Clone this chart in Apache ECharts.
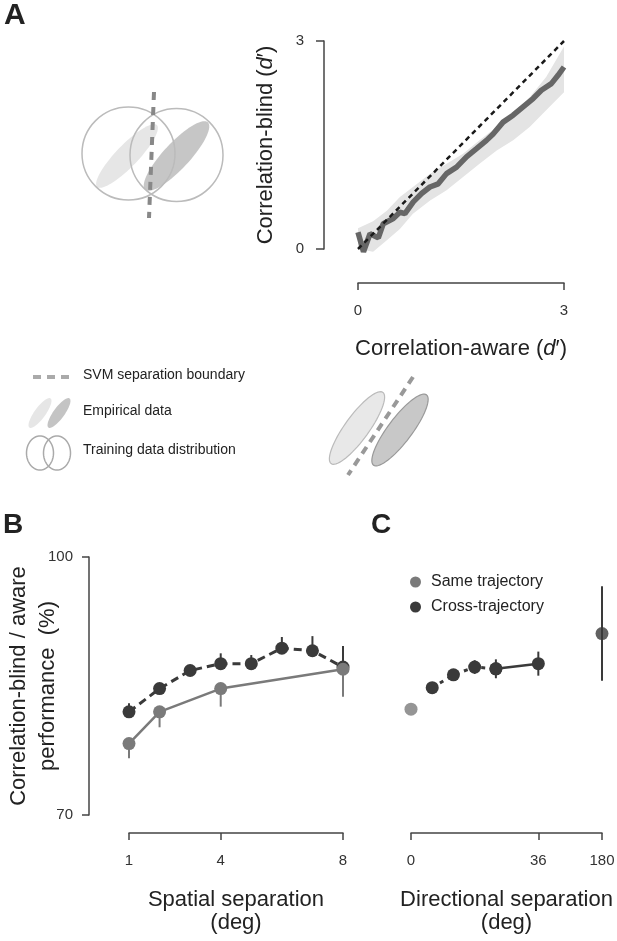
<!DOCTYPE html>
<html><head><meta charset="utf-8">
<script src="https://cdn.jsdelivr.net/npm/echarts@6/dist/echarts.min.js"></script>
<style>html,body{margin:0;padding:0;background:#fff}#c{width:617px;height:941px}</style>
</head><body><div id="c"></div>
<script>
// ---------- Panel A data ----------
const aLineX = [0, 0.08, 0.175, 0.296, 0.368, 0.514, 0.61, 0.683, 0.805, 0.926, 1.047, 1.168, 1.289, 1.435, 1.58, 1.726, 1.871, 1.968, 2.113, 2.259, 2.404, 2.55, 2.67, 2.816, 2.913, 3.0];
const aLineY = [0.24, -0.04, 0.22, 0.16, 0.365, 0.44, 0.53, 0.51, 0.68, 0.80, 0.894, 0.94, 1.087, 1.18, 1.33, 1.447, 1.567, 1.66, 1.83, 1.93, 2.05, 2.17, 2.29, 2.385, 2.505, 2.625];
const aBandX = [0, 0.22, 0.42, 0.61, 0.8, 1.05, 1.29, 1.53, 1.77, 2.02, 2.26, 2.5, 2.74, 3.0];
const aBandUpper = [0.3, 0.4, 0.55, 0.75, 0.894, 1.087, 1.23, 1.375, 1.567, 1.76, 1.95, 2.19, 2.48, 2.92];
const aBandLower = [0.0, -0.04, 0.125, 0.29, 0.51, 0.70, 0.846, 1.04, 1.23, 1.42, 1.567, 1.76, 2.0, 2.26];
const aDiagX = [0, 3];
const aDiagY = [0, 3];
const aTicks = [0, 3];

// ---------- Panel B data ----------
const bCrossX = [1, 2, 3, 4, 5, 6, 7, 8];
const bCross = [82.0, 84.7, 86.8, 87.6, 87.6, 89.4, 89.1, 87.2];
const bCrossErrUp = [1.0, 0.5, 0.5, 1.2, 1.0, 1.3, 1.7, 2.45];
const bSameX = [1, 2, 4, 8];
const bSame = [78.3, 82.0, 84.7, 86.95];
const bSameErrDown = [1.7, 1.8, 2.1, 3.2];
const bTicks = [1, 4, 8];
const yTicks = [70, 100];

// ---------- Panel C data ----------
const cSameX = [0];
const cSame = [82.3];
const cCrossX = [6, 12, 18, 24, 36, 180];
const cCross = [84.8, 86.3, 87.2, 87.0, 87.6, 91.1];
const cCrossErr = [0.5, 0.5, 0.8, 1.1, 1.4, 5.5];
const cTickValues = [0, 36, 180];
const cTickLabels = ['0', '36', '180'];

// axis break for panel C: 180 sits just after 36
function cPos(v) { return v <= 36 ? v : 54; }

const FONT = "'Liberation Sans', Arial, Helvetica, sans-serif";
const DARK = '#3a3a3a', GRAY = '#7a7a7a', AXIS = '#444';

function ell(cx, cy, rx, ry, deg) {
  const a = deg * Math.PI / 180, pts = [];
  for (let i = 0; i < 72; i++) {
    const t = i / 72 * Math.PI * 2, x = rx * Math.cos(t), y = ry * Math.sin(t);
    pts.push([cx + x * Math.cos(a) - y * Math.sin(a), cy + x * Math.sin(a) + y * Math.cos(a)]);
  }
  return pts;
}

function zipXY(xs, ys) { return xs.map((x, i) => [x, ys[i]]); }

const chart = echarts.init(document.getElementById('c'), null, {renderer: 'canvas'});

const axisLineStyle = {show: true, onZero: false, lineStyle: {color: AXIS, width: 1.5}};
const tickStyle = {show: true, length: 7, lineStyle: {color: AXIS, width: 1.5}};
const labelStyle = {color: '#333', fontSize: 15, fontFamily: FONT};
const nameStyle = {color: '#222', fontSize: 22, fontFamily: FONT, lineHeight: 23};

function errRender(color) {
  return function (params, api) {
    const x = api.value(0), y = api.value(1), up = api.value(2), dn = api.value(3);
    const p1 = api.coord([x, y + up]), p2 = api.coord([x, y - dn]);
    return {type: 'line', shape: {x1: p1[0], y1: p1[1], x2: p2[0], y2: p2[1]}, style: {stroke: color, lineWidth: 2}};
  };
}

const option = {
  animation: false,
  textStyle: {fontFamily: FONT},
  grid: [
    {left: 358, top: 41, width: 206, height: 208, outerBoundsMode: 'none', containLabel: false},
    {left: 129, top: 557, width: 214, height: 258, outerBoundsMode: 'none', containLabel: false},
    {left: 411, top: 557, width: 191, height: 258, outerBoundsMode: 'none', containLabel: false}
  ],
  xAxis: [
    {gridIndex: 0, type: 'value', min: 0, max: 3, interval: 3, offset: 34, nameMoveOverlap: false,
     axisLine: axisLineStyle, axisTick: tickStyle, splitLine: {show: false},
     axisLabel: Object.assign({margin: 20}, labelStyle),
     name: 'Correlation-aware ({i|d}′)', nameLocation: 'middle', nameGap: 54,
     nameTextStyle: Object.assign({rich: {i: {fontStyle: 'italic', fontSize: 22, fontFamily: FONT, color: '#222'}}}, nameStyle)},
    {gridIndex: 1, type: 'value', min: 1, max: 8, offset: 18, nameMoveOverlap: false,
     axisLine: axisLineStyle, axisTick: Object.assign({customValues: bTicks}, tickStyle), splitLine: {show: false},
     axisLabel: Object.assign({margin: 20, customValues: bTicks}, labelStyle),
     name: 'Spatial separation\n(deg)', nameLocation: 'middle', nameGap: 55, nameTextStyle: nameStyle},
    {gridIndex: 2, type: 'value', min: 0, max: 54, offset: 18, nameMoveOverlap: false,
     axisLine: axisLineStyle, axisTick: Object.assign({customValues: cTickValues.map(cPos)}, tickStyle), splitLine: {show: false},
     axisLabel: Object.assign({margin: 20, customValues: cTickValues.map(cPos),
       formatter: function (v) { const i = cTickValues.map(cPos).indexOf(v); return i >= 0 ? cTickLabels[i] : ''; }}, labelStyle),
     name: 'Directional separation\n(deg)', nameLocation: 'middle', nameGap: 55, nameTextStyle: nameStyle}
  ],
  yAxis: [
    {gridIndex: 0, type: 'value', min: 0, max: 3, interval: 3, offset: 34, nameMoveOverlap: false,
     axisLine: axisLineStyle, axisTick: Object.assign({}, tickStyle, {length: 8}), splitLine: {show: false},
     axisLabel: Object.assign({margin: 20}, labelStyle),
     name: 'Correlation-blind ({i|d}′)', nameLocation: 'middle', nameRotate: 90, nameGap: 47,
     nameTextStyle: Object.assign({rich: {i: {fontStyle: 'italic', fontSize: 22, fontFamily: FONT, color: '#222'}}}, nameStyle)},
    {gridIndex: 1, type: 'value', min: 70, max: 100, interval: 30, offset: 40, nameMoveOverlap: false,
     axisLine: axisLineStyle, axisTick: tickStyle, splitLine: {show: false},
     axisLabel: Object.assign({margin: 16}, labelStyle),
     name: 'Correlation-blind / aware\nperformance  (%)', nameLocation: 'middle', nameRotate: 90, nameGap: 27,
     nameTextStyle: Object.assign({}, nameStyle, {lineHeight: 29})},
    {gridIndex: 2, type: 'value', min: 70, max: 100, interval: 30, show: false}
  ],
  legend: {
    orient: 'vertical', left: 405, top: 569, itemGap: 9, icon: 'circle', itemWidth: 11, itemHeight: 11,
    textStyle: {fontSize: 16, color: '#222', fontFamily: FONT, padding: [0, 0, 0, 5]},
    data: ['Same trajectory', 'Cross-trajectory'], selectedMode: false
  },
  series: [
    // Panel A
    {type: 'custom', xAxisIndex: 0, yAxisIndex: 0, data: [[0, 0]], clip: false, silent: true, z: 1,
     renderItem: function (params, api) {
       const pts = [];
       for (let i = 0; i < aBandX.length; i++) pts.push(api.coord([aBandX[i], aBandUpper[i]]));
       for (let i = aBandX.length - 1; i >= 0; i--) pts.push(api.coord([aBandX[i], aBandLower[i]]));
       return {type: 'polygon', shape: {points: pts}, style: {fill: '#e4e4e4'}};
     }},
    {type: 'line', xAxisIndex: 0, yAxisIndex: 0, data: zipXY(aLineX, aLineY), symbol: 'none', clip: false, z: 3,
     lineStyle: {color: '#666', width: 5.5}},
    {type: 'line', xAxisIndex: 0, yAxisIndex: 0, data: zipXY(aDiagX, aDiagY), symbol: 'none', clip: false, z: 4,
     lineStyle: {color: '#1a1a1a', width: 2.5, type: [5, 4]}},
    // Panel B
    {type: 'custom', xAxisIndex: 1, yAxisIndex: 1, z: 2, clip: false,
     data: bCrossX.map((x, i) => [x, bCross[i], bCrossErrUp[i], 0]), renderItem: errRender(DARK)},
    {name: 'Cross-trajectory', type: 'line', xAxisIndex: 1, yAxisIndex: 1, data: zipXY(bCrossX, bCross), z: 3,
     symbol: 'circle', symbolSize: 13, itemStyle: {color: DARK}, lineStyle: {color: DARK, width: 3, type: [8, 5]}},
    {type: 'custom', xAxisIndex: 1, yAxisIndex: 1, z: 4, clip: false,
     data: bSameX.map((x, i) => [x, bSame[i], 0, bSameErrDown[i]]), renderItem: errRender(GRAY)},
    {name: 'Same trajectory', type: 'line', xAxisIndex: 1, yAxisIndex: 1, data: zipXY(bSameX, bSame), z: 5,
     symbol: 'circle', symbolSize: 13, itemStyle: {color: GRAY}, lineStyle: {color: GRAY, width: 2.5}},
    // Panel C
    {type: 'custom', xAxisIndex: 2, yAxisIndex: 2, z: 2, clip: false,
     data: cCrossX.map((x, i) => [cPos(x), cCross[i], cCrossErr[i], cCrossErr[i]]), renderItem: errRender(DARK)},
    {name: 'Cross-trajectory', type: 'line', xAxisIndex: 2, yAxisIndex: 2, z: 3,
     data: cCrossX.slice(0, 4).map((x, i) => [cPos(x), cCross[i]]),
     symbol: 'circle', symbolSize: 13, itemStyle: {color: DARK}, lineStyle: {color: DARK, width: 3, type: [4, 5]}},
    {name: 'Cross-trajectory', type: 'line', xAxisIndex: 2, yAxisIndex: 2, z: 3,
     data: cCrossX.slice(3, 5).map((x, i) => [cPos(x), cCross[i + 3]]),
     symbol: 'circle', symbolSize: 13, itemStyle: {color: DARK}, lineStyle: {color: DARK, width: 2.5}},
    {name: 'Cross-trajectory', type: 'scatter', xAxisIndex: 2, yAxisIndex: 2, z: 3,
     data: cCrossX.slice(5).map((x, i) => [cPos(x), cCross[i + 5]]),
     symbol: 'circle', symbolSize: 13, itemStyle: {color: DARK}},
    {name: 'Same trajectory', type: 'scatter', xAxisIndex: 2, yAxisIndex: 2, z: 3,
     data: zipXY(cSameX.map(cPos), cSame), symbol: 'circle', symbolSize: 13, itemStyle: {color: GRAY}}
  ],
  graphic: [
    // panel letters
    {type: 'text', left: 4, top: 1, style: {text: 'A', font: 'bold 30px ' + FONT, fill: '#222'}},
    {type: 'text', left: 3, top: 511, style: {text: 'B', font: 'bold 28px ' + FONT, fill: '#222'}},
    {type: 'text', left: 371, top: 511, style: {text: 'C', font: 'bold 28px ' + FONT, fill: '#222'}},
    // top-left schematic
    {type: 'polygon', shape: {points: ell(127, 156, 43, 11, -46)}, style: {fill: '#e6e6e6'}},
    {type: 'polygon', shape: {points: ell(176.5, 156, 46, 13, -47)}, style: {fill: 'rgba(160,160,160,0.6)'}},
    {type: 'circle', shape: {cx: 128.5, cy: 153.5, r: 46.5}, style: {fill: 'none', stroke: '#bbb', lineWidth: 1.5}},
    {type: 'circle', shape: {cx: 176.5, cy: 155, r: 46.5}, style: {fill: 'none', stroke: '#bbb', lineWidth: 1.5}},
    {type: 'line', shape: {x1: 154, y1: 92, x2: 149, y2: 218}, style: {stroke: '#888', lineWidth: 4, lineDash: [8, 7]}},
    // legend schematic
    {type: 'line', shape: {x1: 33, y1: 377, x2: 70, y2: 377}, style: {stroke: '#aaa', lineWidth: 4, lineDash: [8, 6]}},
    {type: 'text', left: 83, top: 368, style: {text: 'SVM separation boundary', font: '14px ' + FONT, fill: '#222'}},
    {type: 'polygon', shape: {points: ell(40, 413, 18, 5.5, -54)}, style: {fill: '#e6e6e6'}},
    {type: 'polygon', shape: {points: ell(59, 413, 18, 5.5, -54)}, style: {fill: '#c4c4c4'}},
    {type: 'text', left: 83, top: 404, style: {text: 'Empirical data', font: '14px ' + FONT, fill: '#222'}},
    {type: 'polygon', shape: {points: ell(40, 453, 13.5, 17, 0)}, style: {fill: 'none', stroke: '#aaa', lineWidth: 1.5}},
    {type: 'polygon', shape: {points: ell(57, 453, 13.5, 17, 0)}, style: {fill: 'none', stroke: '#aaa', lineWidth: 1.5}},
    {type: 'text', left: 83, top: 443, style: {text: 'Training data distribution', font: '14px ' + FONT, fill: '#222'}},
    // right schematic
    {type: 'polygon', shape: {points: ell(357, 428, 44, 12, -54)}, style: {fill: '#e8e8e8', stroke: '#bbb', lineWidth: 1.2}},
    {type: 'polygon', shape: {points: ell(400, 430, 44, 12, -53)}, style: {fill: '#c8c8c8', stroke: '#999', lineWidth: 1.2}},
    {type: 'line', shape: {x1: 413, y1: 377, x2: 348, y2: 475}, style: {stroke: '#999', lineWidth: 4, lineDash: [8, 6]}}
  ]
};
chart.setOption(option);
</script>
</body></html>
